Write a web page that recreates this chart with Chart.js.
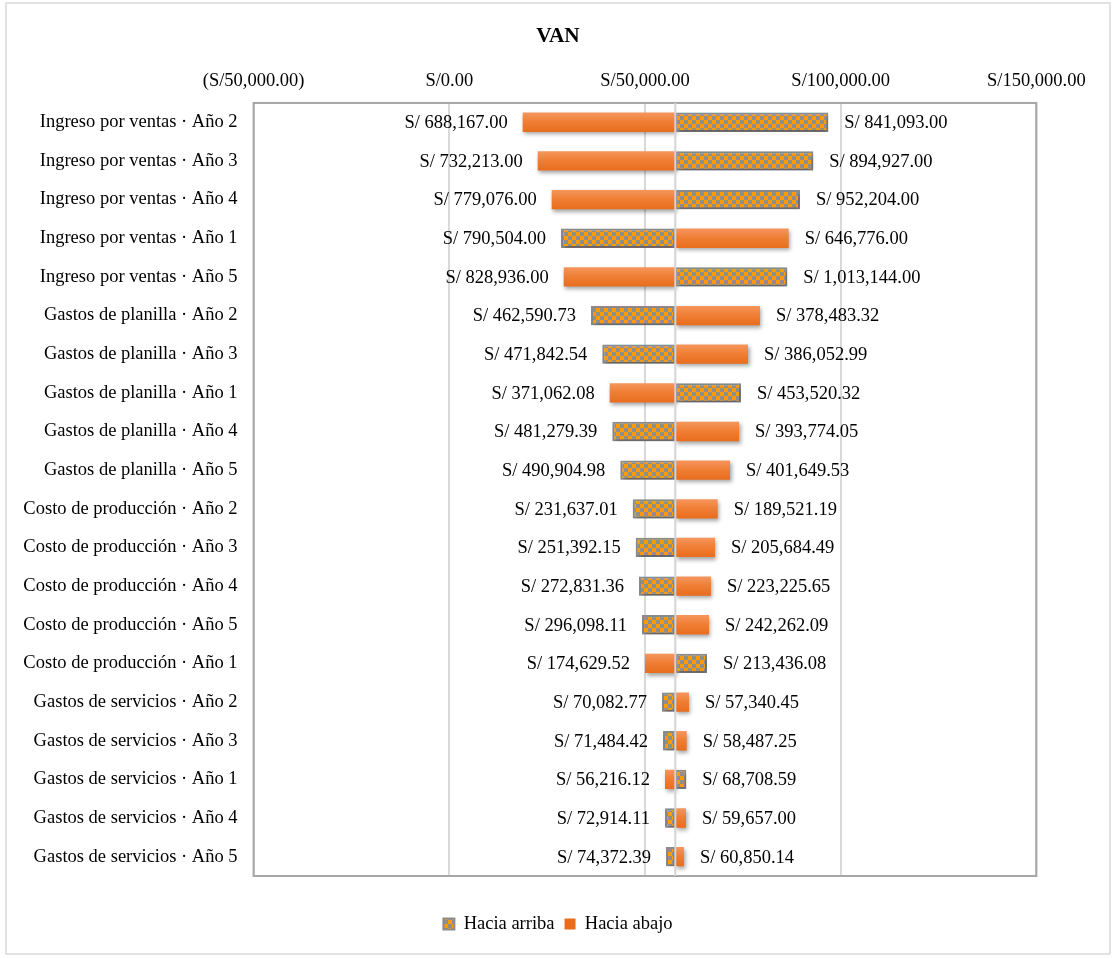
<!DOCTYPE html>
<html><head><meta charset="utf-8">
<script src="https://cdn.jsdelivr.net/npm/chart.js@4.4.1/dist/chart.umd.min.js"></script>
<style>html,body{margin:0;padding:0;background:#fff;} #wrap{width:1116px;height:958px;position:relative;}</style>
</head><body><div id="wrap"><canvas id="c" width="1116" height="958"></canvas></div>
<script>
const categories = [
  'Ingreso por ventas · Año 2','Ingreso por ventas · Año 3','Ingreso por ventas · Año 4','Ingreso por ventas · Año 1','Ingreso por ventas · Año 5',
  'Gastos de planilla · Año 2','Gastos de planilla · Año 3','Gastos de planilla · Año 1','Gastos de planilla · Año 4','Gastos de planilla · Año 5',
  'Costo de producción · Año 2','Costo de producción · Año 3','Costo de producción · Año 4','Costo de producción · Año 5','Costo de producción · Año 1',
  'Gastos de servicios · Año 2','Gastos de servicios · Año 3','Gastos de servicios · Año 1','Gastos de servicios · Año 4','Gastos de servicios · Año 5'
];
const baseValue = 57740;
const arribaEnd = [96830, 93000, 89600, 28540, 86360, 36200, 39090, 74530, 41650, 43690, 46860, 47620, 48470, 49230, 65840, 54340, 54600, 60550, 55110, 55370];
const abajoEnd  = [18750, 22590, 26160, 86710, 29230, 79380, 76320, 40980, 74020, 71720, 68570, 67880, 66860, 66350, 50000, 61240, 60650, 55110, 60480, 59960];
const arribaLabels = ['S/ 841,093.00','S/ 894,927.00','S/ 952,204.00','S/ 790,504.00','S/ 1,013,144.00','S/ 462,590.73','S/ 471,842.54','S/ 453,520.32','S/ 481,279.39','S/ 490,904.98','S/ 231,637.01','S/ 251,392.15','S/ 272,831.36','S/ 296,098.11','S/ 213,436.08','S/ 70,082.77','S/ 71,484.42','S/ 68,708.59','S/ 72,914.11','S/ 74,372.39'];
const abajoLabels = ['S/ 688,167.00','S/ 732,213.00','S/ 779,076.00','S/ 646,776.00','S/ 828,936.00','S/ 378,483.32','S/ 386,052.99','S/ 371,062.08','S/ 393,774.05','S/ 401,649.53','S/ 189,521.19','S/ 205,684.49','S/ 223,225.65','S/ 242,262.09','S/ 174,629.52','S/ 57,340.45','S/ 58,487.25','S/ 56,216.12','S/ 59,657.00','S/ 60,850.14'];
const tickValues = [-50000, 0, 50000, 100000, 150000];
const tickLabels = ['(S/50,000.00)','S/0.00','S/50,000.00','S/100,000.00','S/150,000.00'];
const seriesNames = ['Hacia arriba','Hacia abajo'];

const FAMILY = "'Liberation Serif', 'Times New Roman', serif";
const FONT = {family: FAMILY, size: 18.5};
const canvas = document.getElementById('c');

function makeChecker() {
  const c = document.createElement('canvas'); c.width = 8; c.height = 8;
  const x = c.getContext('2d');
  x.fillStyle = '#8E8E8E'; x.fillRect(0, 0, 8, 8);
  x.fillStyle = '#FF9B00'; x.fillRect(0, 0, 4, 4); x.fillRect(4, 4, 4, 4);
  return canvas.getContext('2d').createPattern(c, 'repeat');
}
const checker = makeChecker();

function orangeFill(ctx) {
  if (ctx.type !== 'data' || !ctx.chart.chartArea) return '#EF7F36';
  const y = ctx.chart.scales.y.getPixelForValue(ctx.dataIndex);
  const g = ctx.chart.ctx.createLinearGradient(0, y - 10, 0, y + 10);
  g.addColorStop(0, '#F5975F'); g.addColorStop(0.5, '#EF7D32'); g.addColorStop(1, '#E86D1D');
  return g;
}

const decor = {
  id: 'decor',
  beforeDraw(chart) {
    const ctx = chart.ctx; ctx.save();
    ctx.fillStyle = '#fff'; ctx.fillRect(0, 0, chart.width, chart.height);
    ctx.strokeStyle = '#d9d9d9'; ctx.lineWidth = 1.5; ctx.strokeRect(6, 3, 1104, 951);
    ctx.restore();
  },
  beforeDatasetsDraw(chart) {
    const {ctx, chartArea: a} = chart;
    ctx.save(); ctx.strokeStyle = '#a6a6a6'; ctx.lineWidth = 2;
    ctx.strokeRect(a.left, a.top, a.right - a.left, a.bottom - a.top); ctx.restore();
    ctx.save();
    ctx.shadowColor = 'rgba(0,0,0,0.35)'; ctx.shadowBlur = 4; ctx.shadowOffsetX = 1.5; ctx.shadowOffsetY = 2.5;
  },
  afterDatasetsDraw(chart) {
    const {ctx, chartArea: a, scales: {x, y}} = chart;
    ctx.restore();
    ctx.save();
    const bx = x.getPixelForValue(baseValue);
    ctx.strokeStyle = '#d4d4d4'; ctx.lineWidth = 2;
    ctx.beginPath(); ctx.moveTo(bx, a.top); ctx.lineTo(bx, a.bottom); ctx.stroke();
    ctx.font = '18.5px ' + FAMILY; ctx.fillStyle = '#000'; ctx.textBaseline = 'middle';
    const sets = [[arribaEnd, arribaLabels], [abajoEnd, abajoLabels]];
    sets.forEach(([vals, labs]) => {
      vals.forEach((v, i) => {
        const px = x.getPixelForValue(v), py = y.getPixelForValue(i);
        if (v < baseValue) { ctx.textAlign = 'right'; ctx.fillText(labs[i], px - 15, py + 1); }
        else { ctx.textAlign = 'left'; ctx.fillText(labs[i], px + 16, py + 1); }
      });
    });
    ctx.restore();
  }
};

new Chart(canvas, {
  type: 'bar',
  data: {
    labels: categories,
    datasets: [
      { label: seriesNames[0], data: arribaEnd.map(v => [baseValue, v]), backgroundColor: checker,
        borderColor: '#8C8C8C', borderWidth: 2, borderSkipped: false, grouped: false,
        barPercentage: 0.5, categoryPercentage: 1.0 },
      { label: seriesNames[1], data: abajoEnd.map(v => [baseValue, v]), backgroundColor: orangeFill,
        borderWidth: 0, grouped: false, barPercentage: 0.5, categoryPercentage: 1.0 }
    ]
  },
  options: {
    indexAxis: 'y', responsive: false, animation: false,
    layout: {padding: {left: 0, right: 0, top: 0, bottom: 14.75}},
    scales: {
      x: { type: 'linear', position: 'top', min: -50000, max: 150000,
        afterBuildTicks: s => { s.ticks = tickValues.map(v => ({value: v})); },
        ticks: { callback: v => tickLabels[tickValues.indexOf(v)], font: FONT, color: '#000', padding: 11, maxRotation: 0, autoSkip: false },
        grid: { color: '#d9d9d9', lineWidth: 2, drawTicks: false },
        border: { display: false },
        afterFit: s => { s.height = 49.4; } },
      y: { type: 'category', position: 'left',
        ticks: { font: FONT, color: '#000', padding: 16, autoSkip: false },
        grid: { display: false, drawTicks: false }, border: { display: false },
        afterFit: s => { s.width = 253.6; } },
      yr: { type: 'category', position: 'right', display: true,
        ticks: { display: false }, grid: { display: false, drawTicks: false }, border: { display: false },
        afterFit: s => { s.width = 79.6; } }
    },
    plugins: {
      title: { display: true, text: 'VAN', color: '#000', font: {family: FAMILY, size: 21.3, weight: 'bold'}, padding: {top: 24, bottom: 4} },
      legend: { position: 'bottom',
        labels: { font: FONT, color: '#000', boxWidth: 11, boxHeight: 11, padding: 10 },
        title: { display: true, text: '', font: {size: 10, lineHeight: 1}, padding: {top: 0, bottom: 18.75} } },
      tooltip: { enabled: false }
    }
  },
  plugins: [decor]
});
</script>
</body></html>
